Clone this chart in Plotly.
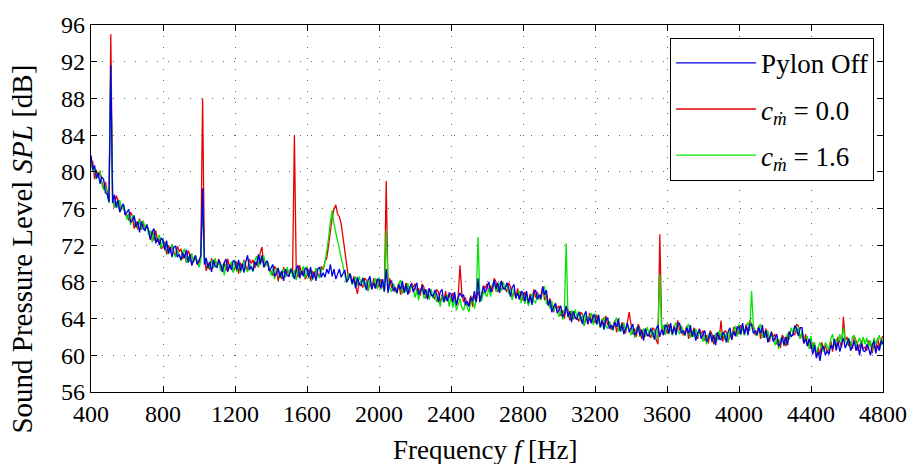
import plotly.graph_objects as go

freq = list(range(400, 4801, 10))

spl_pylon_off = [
    81.8, 80.2, 80.7, 79.3, 79.9, 78.7, 79.4, 79.2, 77.7, 77.6,
    76.7, 91.6, 76.6, 77.5, 76.1, 76.9, 75.6, 76.2, 76.5, 75.3,
    75.6, 75.9, 74.5, 74.7, 75.2, 74.0, 74.6, 73.4, 74.6, 73.8,
    73.6, 74.2, 73.6, 72.6, 73.5, 73.8, 72.2, 72.8, 72.0, 72.8,
    72.5, 71.5, 72.5, 71.1, 71.8, 70.7, 71.8, 71.9, 70.7, 71.0,
    70.4, 71.2, 70.6, 71.5, 70.1, 71.0, 69.8, 70.5, 70.9, 69.9,
    70.4, 70.8, 78.2, 69.9, 70.6, 69.5, 70.2, 69.1, 70.4, 69.7,
    69.6, 70.4, 69.9, 69.1, 70.1, 70.5, 69.1, 69.9, 69.3, 70.3,
    70.2, 69.3, 70.4, 69.2, 70.0, 69.0, 70.2, 70.9, 69.3, 69.7,
    69.2, 70.2, 69.8, 71.0, 69.9, 70.9, 69.6, 70.1, 70.3, 69.2,
    69.5, 69.9, 68.6, 68.9, 69.5, 68.5, 69.2, 68.1, 69.4, 68.7,
    68.6, 69.4, 69.0, 68.3, 69.4, 69.8, 68.4, 69.2, 68.6, 69.5,
    69.4, 68.5, 69.6, 68.3, 69.1, 68.1, 69.4, 69.6, 68.5, 69.0,
    68.5, 69.4, 68.9, 69.9, 68.6, 69.4, 68.3, 69.0, 69.4, 68.5,
    68.9, 69.3, 68.0, 68.3, 68.9, 67.8, 68.4, 67.3, 68.5, 67.7,
    67.6, 68.4, 67.9, 67.1, 68.2, 68.6, 67.2, 67.9, 67.3, 68.3,
    68.2, 67.3, 68.3, 67.0, 69.4, 66.8, 68.0, 68.1, 67.0, 67.4,
    66.8, 67.7, 67.2, 68.1, 66.8, 67.7, 66.6, 67.4, 67.8, 66.9,
    67.4, 67.9, 66.6, 67.0, 67.6, 66.6, 67.2, 66.1, 67.3, 66.6,
    66.4, 67.1, 66.7, 65.8, 66.9, 67.2, 65.8, 66.5, 65.9, 66.8,
    66.7, 65.8, 66.9, 65.5, 66.3, 66.8, 66.4, 66.6, 65.5, 65.9,
    65.3, 66.3, 65.9, 67.0, 65.8, 68.4, 65.8, 66.8, 67.5, 66.8,
    67.4, 68.0, 66.9, 67.4, 68.2, 67.2, 67.9, 66.8, 68.1, 67.3,
    67.2, 67.9, 67.4, 66.4, 67.4, 67.7, 66.2, 66.8, 66.1, 67.0,
    66.8, 65.9, 67.0, 65.7, 66.5, 65.5, 66.8, 67.1, 66.1, 66.6,
    66.2, 67.5, 66.6, 67.1, 65.4, 66.0, 64.7, 65.3, 65.6, 64.6,
    65.0, 65.4, 64.2, 64.5, 65.4, 64.2, 64.8, 63.6, 64.8, 64.1,
    63.9, 64.7, 64.2, 63.4, 64.4, 64.8, 63.4, 64.1, 63.5, 64.4,
    64.3, 63.4, 64.4, 63.1, 63.8, 62.8, 63.9, 64.1, 62.9, 63.3,
    62.8, 63.6, 63.1, 64.0, 62.6, 63.4, 62.3, 63.0, 63.5, 62.5,
    63.0, 63.4, 62.2, 62.5, 63.2, 62.1, 62.8, 61.6, 62.9, 62.2,
    62.1, 62.9, 62.5, 61.7, 62.9, 63.3, 62.0, 62.8, 62.2, 63.3,
    63.2, 62.4, 63.5, 62.3, 63.1, 62.2, 63.4, 63.5, 62.4, 62.7,
    62.2, 63.0, 62.4, 63.3, 62.0, 62.8, 61.6, 62.4, 62.8, 61.8,
    62.3, 62.7, 61.5, 61.8, 62.5, 61.5, 62.2, 61.1, 62.5, 61.8,
    61.7, 62.5, 62.2, 61.4, 62.6, 63.0, 61.7, 62.6, 62.1, 63.1,
    63.1, 62.3, 63.5, 62.3, 63.2, 62.2, 63.4, 63.3, 62.4, 62.7,
    62.2, 63.0, 62.4, 63.3, 61.9, 62.7, 61.4, 62.1, 62.5, 61.5,
    61.9, 62.3, 61.0, 61.3, 62.0, 61.1, 62.0, 61.1, 62.6, 62.1,
    62.2, 63.2, 62.9, 62.1, 63.0, 63.0, 61.3, 61.8, 61.0, 61.8,
    61.2, 60.1, 61.1, 59.7, 60.4, 59.4, 60.7, 61.0, 60.0, 60.5,
    60.1, 61.1, 60.7, 61.8, 60.5, 61.5, 60.4, 61.2, 61.9, 60.8,
    61.3, 61.8, 60.5, 60.9, 61.6, 60.5, 61.2, 60.0, 61.3, 60.5,
    60.4, 61.2, 60.8, 60.0, 61.1, 61.6, 60.2, 61.1, 60.5, 61.6,
    61.2,
]

spl_cm_00 = [
    81.3, 81.1, 79.2, 80.2, 79.3, 80.1, 78.9, 78.1, 78.9, 77.9,
    76.9, 95.0, 77.0, 76.1, 77.4, 76.9, 75.6, 76.2, 76.4, 75.3,
    75.3, 74.7, 75.6, 75.2, 73.8, 74.6, 73.7, 74.9, 73.7, 74.5,
    73.6, 74.3, 73.6, 72.6, 73.5, 72.5, 73.6, 72.4, 72.7, 71.6,
    71.8, 72.4, 71.0, 72.0, 71.2, 72.1, 71.3, 70.8, 71.9, 71.3,
    71.6, 70.5, 71.0, 70.1, 71.4, 71.0, 69.8, 70.5, 70.8, 69.9,
    70.1, 70.9, 88.0, 70.8, 69.2, 70.1, 69.3, 70.6, 69.5, 70.4,
    69.6, 70.5, 69.9, 69.1, 70.1, 69.2, 70.5, 69.5, 70.0, 69.1,
    69.5, 70.2, 68.9, 70.1, 69.4, 70.4, 69.7, 69.3, 70.5, 70.0,
    70.4, 69.5, 70.2, 69.6, 71.2, 71.8, 69.6, 70.1, 70.2, 69.2,
    69.2, 68.7, 69.7, 69.4, 68.1, 69.1, 68.3, 69.6, 68.5, 69.4,
    68.6, 69.5, 69.0, 84.0, 69.4, 68.5, 69.8, 68.8, 69.3, 68.3,
    68.7, 69.4, 68.1, 69.2, 68.5, 69.5, 68.9, 68.5, 69.7, 69.3,
    70.2, 70.6, 72.0, 73.8, 75.0, 75.9, 76.4, 75.4, 75.1, 74.3,
    72.8, 71.0, 69.6, 68.5, 68.9, 67.9, 68.6, 67.6, 66.7, 67.9,
    67.8, 67.4, 68.4, 68.2, 67.0, 68.0, 67.2, 68.4, 67.3, 68.2,
    67.4, 68.3, 67.7, 66.9, 79.0, 67.1, 68.4, 67.3, 67.8, 66.9,
    67.2, 67.9, 66.6, 67.6, 66.9, 67.9, 67.2, 66.8, 67.9, 67.4,
    67.8, 66.8, 67.3, 66.5, 67.8, 67.4, 66.2, 67.0, 67.3, 66.5,
    66.6, 66.1, 67.2, 66.9, 65.7, 66.6, 65.8, 67.0, 65.9, 66.7,
    65.9, 66.8, 66.3, 65.4, 66.5, 69.8, 66.8, 65.8, 66.3, 65.4,
    65.7, 66.5, 65.3, 66.5, 65.9, 67.0, 66.4, 66.2, 67.6, 67.3,
    67.8, 66.9, 67.6, 66.9, 68.4, 68.0, 66.9, 67.7, 68.1, 67.2,
    67.4, 66.9, 67.9, 67.5, 66.2, 67.1, 66.2, 67.3, 66.1, 66.9,
    66.0, 66.9, 66.4, 65.6, 66.7, 65.8, 67.2, 66.3, 66.9, 66.1,
    66.6, 67.5, 66.0, 66.6, 65.5, 66.2, 65.3, 64.7, 65.7, 65.1,
    65.4, 64.3, 64.9, 64.0, 65.2, 65.0, 63.8, 64.5, 64.8, 64.0,
    64.1, 63.7, 64.7, 64.5, 63.2, 64.2, 63.4, 64.6, 63.5, 64.3,
    63.5, 64.4, 63.8, 63.0, 64.0, 63.1, 64.3, 63.3, 63.7, 62.8,
    63.2, 63.8, 62.5, 63.5, 62.7, 63.6, 62.9, 62.4, 63.6, 64.7,
    63.4, 62.3, 62.9, 62.0, 63.4, 62.9, 61.8, 62.5, 62.9, 62.1,
    62.3, 61.9, 63.0, 62.8, 61.7, 61.2, 73.2, 63.3, 62.2, 63.2,
    62.4, 63.4, 62.9, 62.2, 63.3, 62.5, 63.8, 62.7, 63.2, 62.2,
    62.6, 63.2, 61.8, 62.8, 62.1, 63.0, 62.2, 61.8, 62.9, 62.3,
    62.7, 61.6, 62.2, 61.3, 62.7, 62.3, 61.2, 62.0, 62.5, 61.7,
    63.8, 61.5, 62.7, 62.5, 61.4, 62.4, 61.7, 63.1, 62.1, 63.0,
    62.3, 63.3, 62.9, 62.2, 63.4, 62.5, 63.8, 63.4, 63.2, 62.2,
    62.6, 63.2, 61.8, 62.8, 62.0, 62.9, 62.0, 61.5, 62.6, 62.0,
    62.3, 61.2, 61.7, 60.8, 62.2, 61.9, 61.0, 62.0, 62.6, 62.0,
    62.4, 62.2, 63.4, 63.2, 61.8, 62.4, 61.3, 62.3, 61.0, 61.7,
    60.7, 61.4, 60.8, 59.9, 60.9, 60.0, 61.4, 60.5, 61.1, 60.3,
    60.8, 61.6, 60.4, 61.6, 60.9, 62.0, 61.3, 60.9, 64.2, 61.6,
    62.0, 61.0, 61.5, 60.7, 62.1, 61.6, 60.5, 61.2, 61.6, 60.7,
    60.9, 60.5, 61.6, 61.4, 60.2, 61.3, 60.5, 61.9, 60.8, 61.8,
    62.1,
]

spl_cm_16 = [
    81.0, 80.1, 80.4, 79.2, 79.8, 80.1, 78.7, 78.0, 78.5, 77.5,
    76.6, 91.0, 77.6, 76.1, 76.8, 76.1, 76.9, 75.8, 76.4, 75.7,
    74.8, 75.4, 74.2, 75.2, 75.2, 73.9, 74.2, 74.7, 73.7, 74.7,
    73.8, 74.3, 73.1, 73.6, 72.3, 73.5, 72.6, 72.8, 73.1, 71.7,
    72.8, 71.4, 72.2, 71.0, 71.7, 72.1, 71.1, 70.7, 71.5, 70.9,
    70.3, 71.3, 71.6, 70.1, 70.8, 70.2, 71.1, 70.1, 70.8, 70.3,
    69.6, 70.3, 76.5, 70.4, 70.6, 69.4, 69.8, 70.4, 69.5, 70.6,
    69.6, 70.3, 69.2, 69.9, 68.7, 70.0, 69.3, 69.7, 70.2, 69.0,
    70.4, 69.1, 70.0, 69.0, 69.8, 70.3, 69.4, 69.1, 70.0, 69.5,
    69.1, 70.3, 70.8, 69.6, 70.6, 70.1, 70.9, 69.7, 70.2, 69.6,
    68.7, 69.4, 68.3, 69.4, 69.5, 68.4, 68.8, 69.4, 68.5, 69.6,
    68.8, 69.5, 68.5, 69.3, 68.2, 69.5, 68.8, 69.2, 69.7, 68.4,
    69.7, 68.4, 69.3, 68.2, 69.0, 69.5, 68.7, 68.4, 69.3, 69.4,
    70.1, 71.3, 72.8, 74.6, 75.8, 74.3, 73.4, 72.2, 71.5, 70.4,
    69.6, 68.9, 67.9, 68.8, 68.9, 67.7, 68.0, 68.6, 67.6, 68.6,
    67.8, 68.5, 67.4, 68.1, 67.0, 68.3, 67.6, 67.9, 68.4, 67.2,
    68.5, 67.2, 68.0, 66.9, 73.6, 68.2, 67.3, 66.9, 67.8, 67.3,
    66.7, 67.8, 68.2, 66.7, 67.5, 66.9, 67.9, 67.0, 67.7, 67.3,
    66.3, 67.1, 66.0, 67.2, 67.3, 66.2, 66.5, 67.1, 66.1, 67.2,
    66.2, 66.8, 65.8, 66.4, 65.3, 66.5, 65.8, 66.1, 66.6, 65.3,
    66.5, 65.2, 66.1, 64.9, 65.7, 66.2, 65.2, 64.9, 65.8, 65.3,
    64.7, 65.9, 66.4, 65.1, 66.0, 72.9, 66.6, 65.9, 66.9, 66.7,
    66.4, 67.3, 66.4, 67.7, 68.0, 66.9, 67.3, 67.9, 67.0, 68.0,
    67.2, 67.8, 66.7, 67.2, 66.0, 67.2, 66.4, 66.6, 67.0, 65.7,
    66.9, 65.6, 66.5, 65.4, 66.2, 66.7, 65.9, 65.7, 66.7, 66.3,
    66.0, 67.3, 67.5, 65.6, 66.0, 65.1, 65.9, 64.8, 65.4, 64.9,
    64.2, 64.9, 63.9, 65.0, 72.2, 64.1, 64.4, 64.9, 63.9, 65.0,
    64.1, 64.8, 63.7, 64.4, 63.2, 64.5, 63.8, 64.1, 64.6, 63.3,
    64.6, 63.3, 64.1, 63.0, 63.7, 64.2, 63.2, 62.9, 63.7, 63.2,
    62.7, 63.7, 64.1, 62.6, 63.3, 62.6, 63.6, 62.6, 63.4, 62.9,
    62.2, 62.9, 61.9, 63.0, 63.2, 62.0, 62.4, 62.9, 62.0, 63.1,
    62.3, 63.0, 62.0, 62.7, 61.7, 63.0, 68.8, 62.8, 63.3, 62.2,
    63.5, 62.3, 63.2, 62.2, 63.0, 63.6, 62.7, 62.3, 63.2, 62.6,
    62.1, 63.1, 63.4, 61.9, 62.7, 62.0, 62.9, 62.0, 62.7, 62.2,
    61.5, 62.2, 61.2, 62.3, 62.5, 61.4, 61.8, 62.4, 61.6, 62.7,
    61.9, 62.6, 61.7, 62.4, 61.4, 62.7, 62.1, 62.6, 63.2, 62.0,
    63.4, 62.2, 63.2, 62.2, 63.1, 63.6, 62.7, 67.0, 63.2, 62.6,
    62.1, 63.1, 63.4, 61.9, 62.6, 61.9, 62.7, 61.7, 62.4, 61.9,
    61.1, 61.8, 60.7, 61.8, 62.0, 61.0, 61.6, 62.4, 61.7, 63.0,
    62.4, 63.3, 62.4, 63.1, 61.8, 62.7, 61.7, 61.8, 62.1, 60.7,
    62.1, 60.6, 61.4, 60.2, 60.9, 61.4, 60.6, 60.4, 61.4, 61.0,
    60.6, 61.8, 62.3, 61.0, 61.8, 61.3, 62.3, 61.4, 63.0, 61.8,
    61.1, 61.9, 60.8, 62.0, 62.2, 61.0, 61.4, 61.9, 61.0, 62.0,
    61.2, 61.9, 60.9, 61.6, 60.5, 61.9, 61.2, 61.7, 62.2, 61.1,
    61.8,
]

series_names = ["Pylon Off", "<i>c</i><sub><i>ṁ</i></sub> = 0.0", "<i>c</i><sub><i>ṁ</i></sub> = 1.6"]
x_ticks = [400, 800, 1200, 1600, 2000, 2400, 2800, 3200, 3600, 4000, 4400, 4800]
y_ticks = [56, 60, 64, 68, 72, 76, 80, 84, 88, 92, 96]

FONT = "Liberation Serif, DejaVu Serif, serif"

fig = go.Figure()
# draw order: red, green, blue (blue on top); legend order: blue, red, green
fig.add_trace(go.Scatter(x=freq, y=spl_cm_00, mode="lines", name=series_names[1],
                         line=dict(color="#e60000", width=1.3), legendrank=2, legendgroup="b"))
fig.add_trace(go.Scatter(x=freq, y=spl_cm_16, mode="lines", name=series_names[2],
                         line=dict(color="#00e600", width=1.3), legendrank=3, legendgroup="c"))
fig.add_trace(go.Scatter(x=freq, y=spl_pylon_off, mode="lines", name=series_names[0],
                         line=dict(color="#0000e6", width=1.3), legendrank=1, legendgroup="a"))

axis_common = dict(
    showline=True, linecolor="black", linewidth=1.2, mirror="ticks",
    ticks="inside", ticklen=6, tickcolor="black", tickwidth=1.2,
    showgrid=True, gridcolor="#666666", gridwidth=1, griddash="1px,10px",
    zeroline=False, tickfont=dict(family=FONT, size=24, color="black"),
)

fig.update_layout(
    width=919, height=464,
    margin=dict(l=91, r=28, t=23, b=72),
    paper_bgcolor="white", plot_bgcolor="white",
    font=dict(family=FONT, color="black"),
    xaxis=dict(range=[400, 4800], tickvals=x_ticks, **axis_common),
    yaxis=dict(range=[56, 96], tickvals=y_ticks, **axis_common),
    legend=dict(x=0.86, y=0.965, xanchor="center", yanchor="top",
                bgcolor="white", bordercolor="black", borderwidth=1,
                font=dict(family=FONT, size=27), tracegroupgap=8,
                itemwidth=80),
    showlegend=True,
    annotations=[
        dict(text="Frequency <i>f</i> [Hz]", xref="paper", yref="paper",
             x=0.4975, y=-0.157, xanchor="center", yanchor="middle",
             showarrow=False, font=dict(family=FONT, size=27, color="black")),
        dict(text="Sound Pressure Level <i>SPL</i> [dB]", xref="paper", yref="paper",
             x=-0.0875, y=0.39, xanchor="center", yanchor="middle", textangle=-90,
             showarrow=False, font=dict(family=FONT, size=29, color="black")),
    ],
)

fig.write_html("out.html")
